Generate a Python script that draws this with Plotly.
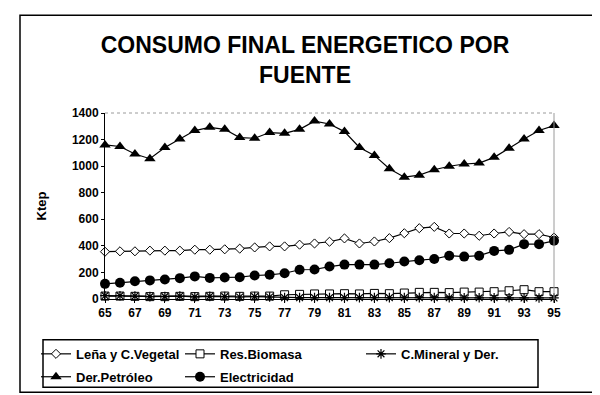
import plotly.graph_objects as go

years = list(range(65, 96))
tick_years = list(range(65, 96, 2))
tick_labels = [str(y) for y in tick_years]

lena = [356, 359, 359, 364, 364, 364, 371, 371, 374, 379, 388, 396, 396, 409, 418,
        431, 456, 418, 433, 458, 495, 533, 543, 493, 493, 476, 493, 505, 488, 488, 463]
biomasa = [22, 22, 20, 18, 18, 20, 18, 20, 22, 20, 22, 22, 32, 35, 38,
           38, 40, 38, 42, 40, 45, 50, 50, 48, 52, 52, 55, 62, 70, 55, 55]
mineral = [25, 25, 22, 18, 18, 22, 16, 20, 18, 15, 18, 15, 10, 10, 10,
           10, 10, 10, 10, 10, 10, 10, 10, 9, 9, 9, 9, 9, 8, 8, 8]
petroleo = [1160, 1148, 1091, 1056, 1141, 1205, 1268, 1292, 1277, 1215, 1210, 1253, 1247, 1277, 1339,
            1317, 1260, 1141, 1081, 981, 917, 932, 973, 999, 1016, 1023, 1066, 1135, 1205, 1268, 1305]
electricidad = [114, 122, 134, 140, 147, 157, 170, 159, 162, 164, 177, 182, 194, 220, 222,
                244, 259, 259, 259, 269, 282, 292, 301, 326, 319, 326, 362, 370, 413, 413, 438]

FONT = "Liberation Sans"

# plot area in pixels
L, R, T, B = 97, 546, 104.5, 292
W, H = 600, 395
pw, ph = R - L, B - T

def px_x(x):
    return (x - L) / pw

def px_y(y):
    return (B - y) / ph

fig = go.Figure()

series = [
    ("Leña y C.Vegetal", lena, dict(symbol="diamond", size=7, color="white",
                                     line=dict(color="black", width=1)), "legend", "g1"),
    ("Res.Biomasa", biomasa, dict(symbol="square", size=8, color="white",
                                   line=dict(color="black", width=1)), "legend2", "g2"),
    ("C.Mineral y Der.", mineral, dict(symbol="asterisk-open", size=8, color="black",
                                       line=dict(color="black", width=1.2)), "legend3", "g3"),
    ("Der.Petróleo", petroleo, dict(symbol="triangle-up", size=10, color="black"), "legend", "g4"),
    ("Electricidad", electricidad, dict(symbol="circle", size=10, color="black"), "legend2", "g5"),
]

for name, vals, marker, leg, grp in series:
    fig.add_trace(go.Scatter(
        x=years, y=vals, name=name, mode="lines+markers",
        line=dict(color="black", width=1.2),
        marker=marker, cliponaxis=False, legend=leg, legendgroup=grp,
    ))

legfont = dict(family=FONT, size=13, color="black", weight="bold")
leg_common = dict(font=legfont, bgcolor="rgba(0,0,0,0)", borderwidth=0,
                  orientation="v", xanchor="left", yanchor="top",
                  tracegroupgap=3, traceorder="grouped",
                  itemwidth=30)

fig.update_layout(
    width=W, height=H,
    margin=dict(l=L, r=W - R, t=T, b=H - B),
    paper_bgcolor="white", plot_bgcolor="white",
    title=dict(text="CONSUMO FINAL ENERGETICO POR<br>FUENTE",
               x=0.495, xanchor="center", xref="container",
               y=1 - 45 / H, yanchor="top", yref="container",
               font=dict(family=FONT, size=23, color="black", weight="bold")),
    xaxis=dict(range=[65, 95], tickvals=tick_years, ticktext=tick_labels,
               showgrid=False, zeroline=False, showline=True, linecolor="black",
               linewidth=1, ticks="outside", ticklen=3, tickcolor="black",
               tickfont=dict(family=FONT, size=12, color="black", weight="bold")),
    yaxis=dict(range=[0, 1400], dtick=200, showgrid=False, zeroline=False,
               showline=True, linecolor="black", linewidth=1,
               ticks="outside", ticklen=3, tickcolor="black",
               tickfont=dict(family=FONT, size=12, color="black", weight="bold"),
               title=dict(text="Ktep", standoff=22,
                          font=dict(family=FONT, size=13, color="black", weight="bold"))),
    legend=dict(x=px_x(28), y=px_y(331), **leg_common),
    legend2=dict(x=px_x(172), y=px_y(331), **leg_common),
    legend3=dict(x=px_x(353), y=px_y(331), **leg_common),
    shapes=[
        # plot area top & right border (gray)
        dict(type="line", xref="paper", yref="paper", x0=0, x1=1, y0=1, y1=1,
             line=dict(color="#9a9a9a", width=1, dash="dot")),
        dict(type="line", xref="paper", yref="paper", x0=1, x1=1, y0=0, y1=1,
             line=dict(color="#9a9a9a", width=1)),
        # legend box
        dict(type="rect", xref="paper", yref="paper",
             x0=px_x(35), x1=px_x(530), y0=px_y(381), y1=px_y(333),
             line=dict(color="black", width=1.5)),
        # outer chart border
        dict(type="rect", xref="paper", yref="paper",
             x0=px_x(12), x1=px_x(587), y0=px_y(386), y1=px_y(6),
             line=dict(color="black", width=1.5)),
    ],
)

fig.write_html("out.html")
